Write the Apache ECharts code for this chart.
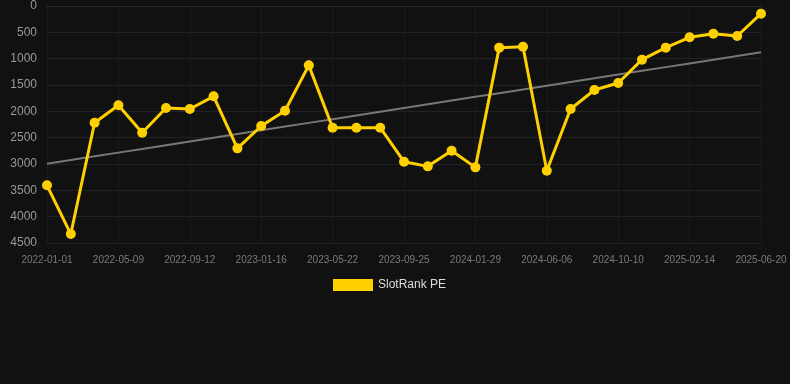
<!DOCTYPE html>
<html>
<head>
<meta charset="utf-8">
<script src="https://cdn.jsdelivr.net/npm/echarts@6/dist/echarts.min.js"></script>
<style>
  html, body { margin: 0; padding: 0; background: #111111; }
  #chart { width: 790px; height: 384px; }
</style>
</head>
<body>
<div id="chart"></div>
<script>
const dates = [
    '2022-01-01', '2022-02-12', '2022-03-26', '2022-05-09', '2022-06-20', '2022-08-01',
    '2022-09-12', '2022-10-24', '2022-12-05', '2023-01-16', '2023-02-27', '2023-04-10',
    '2023-05-22', '2023-07-03', '2023-08-14', '2023-09-25', '2023-11-06', '2023-12-18',
    '2024-01-29', '2024-03-11', '2024-04-22', '2024-06-06', '2024-07-18', '2024-08-29',
    '2024-10-10', '2024-11-21', '2025-01-02', '2025-02-14', '2025-03-28', '2025-05-09',
    '2025-06-20'
];
const rankPE = [
    3405, 4330, 2216, 1886, 2406, 1937, 1956, 1715, 2703, 2279, 1988, 1127,
    2311, 2311, 2311, 2956, 3045, 2748, 3064, 791, 773, 3127, 1956, 1595,
    1462, 1019, 791, 595, 526, 570, 146
];
const yTicks = { min: 0, max: 4500, interval: 500 };

// least squares trend line over the index
const n = rankPE.length;
let sx = 0, sy = 0, sxy = 0, sxx = 0;
rankPE.forEach((v, i) => { sx += i; sy += v; sxy += i * v; sxx += i * i; });
const slope = (n * sxy - sx * sy) / (n * sxx - sx * sx);
const icpt = (sy - slope * sx) / n;
const trend = rankPE.map((v, i) => +(icpt + slope * i).toFixed(1));

const chart = echarts.init(document.getElementById('chart'));

chart.setOption({
    backgroundColor: '#111111',
    animation: false,
    grid: { left: 47, right: 29, top: 6, bottom: 141 },
    legend: {
        data: ['SlotRank PE'],
        bottom: 88,
        left: 328,
        itemWidth: 40,
        itemHeight: 12,
        itemGap: 6,
        icon: 'rect',
        textStyle: { color: '#dddddd', fontSize: 12 }
    },
    xAxis: {
        type: 'category',
        data: dates,
        boundaryGap: false,
        axisLine: { lineStyle: { color: '#2a2a2a' } },
        axisTick: { show: false },
        axisLabel: { interval: 2, color: '#7a7a7a', fontSize: 10, margin: 12 },
        splitLine: { show: true, interval: 2, lineStyle: { color: '#1c1c1c' } }
    },
    yAxis: {
        type: 'value',
        inverse: true,
        min: yTicks.min,
        max: yTicks.max,
        interval: yTicks.interval,
        axisLine: { show: false },
        axisTick: { show: false },
        axisLabel: { color: '#999999', fontSize: 12, margin: 10, formatter: v => String(v) },
        splitLine: { lineStyle: { color: '#222222' } }
    },
    series: [
        {
            name: 'SlotRank PE',
            type: 'line',
            data: rankPE,
            symbol: 'circle',
            symbolSize: 10,
            lineStyle: { color: '#ffd000', width: 3 },
            itemStyle: { color: '#ffd000' },
            z: 3
        },
        {
            name: 'Trend',
            type: 'line',
            data: trend,
            symbol: 'none',
            lineStyle: { color: '#777777', width: 2 },
            z: 2
        }
    ]
});
</script>
</body>
</html>
